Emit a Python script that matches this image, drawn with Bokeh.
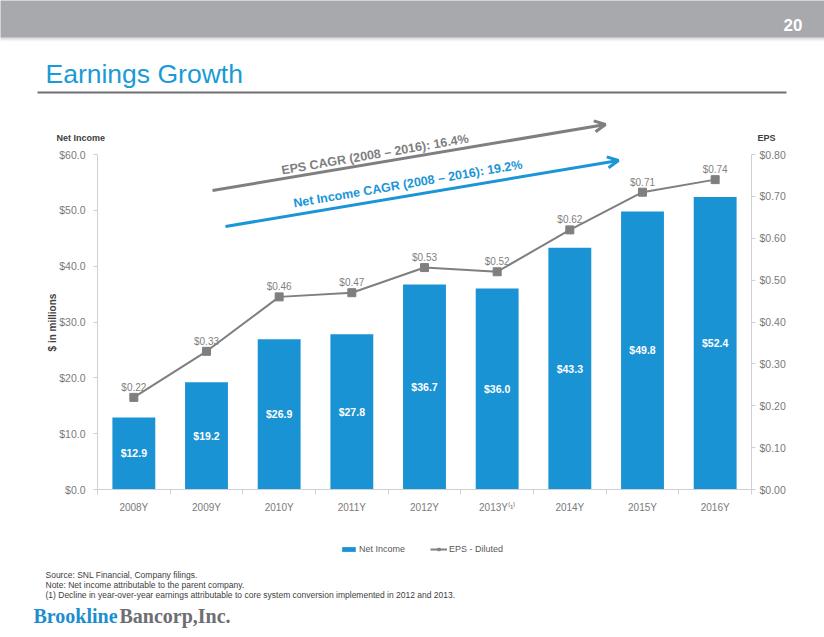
import math
from bokeh.plotting import figure
from bokeh.models import (Range1d, LinearAxis, FixedTicker, NumeralTickFormatter, Label,
                          Arrow, OpenHead, BoxAnnotation, Legend, LegendItem, ColumnDataSource)
from bokeh.core.properties import value
from bokeh.embed import file_html
from bokeh.resources import INLINE

# ---------------- data ----------------
categories = ["2008Y", "2009Y", "2010Y", "2011Y", "2012Y", "2013Y", "2014Y", "2015Y", "2016Y"]
tick_labels = ["2008Y", "2009Y", "2010Y", "2011Y", "2012Y", "2013Y\u207d\u00b9\u207e", "2014Y", "2015Y", "2016Y"]
net_income = [12.9, 19.2, 26.9, 27.8, 36.7, 36.0, 43.3, 49.8, 52.4]
eps_diluted = [0.22, 0.33, 0.46, 0.47, 0.53, 0.52, 0.62, 0.71, 0.74]
ni_ticks = [0, 10, 20, 30, 40, 50, 60]
eps_ticks = [0.0, 0.1, 0.2, 0.3, 0.4, 0.5, 0.6, 0.7, 0.8]
eps_cagr_text = "EPS CAGR (2008 \u2013 2016): 16.4%"
ni_cagr_text = "Net Income CAGR (2008 \u2013 2016): 19.2%"
footnotes = ["Source: SNL Financial, Company filings.",
             "Note: Net income attributable to the parent company.",
             "(1) Decline in year-over-year earnings attributable to core system conversion implemented in 2012 and 2013."]

FONT = "Liberation Sans"
BLUE = "#1A93D4"
GRAY = "#7F7F7F"
AXIS = "#D0D0D0"
TICKTXT = "#7A7A7A"

n = len(categories)
xs = [i + 0.5 for i in range(n)]

# ---------------- layout (pixels) ----------------
W, H = 824, 637
PL, PR, PT, PB = 97, 751, 154, 489          # chart area in page pixels
NI_MAX, EPS_MAX = 60.0, 0.8

def ext(lo_px, hi_px, v0, v1, full):
    # range so that page pixels lo_px..hi_px map to v0..v1 over a canvas of size `full`
    k = (v1 - v0) / (hi_px - lo_px)
    return v0 - lo_px * k, v1 + (full - hi_px) * k

xr = ext(PL, PR, 0, n, W)
yr_b, yr_t = ext(H - PB, H - PT, 0, NI_MAX, H)
er_b, er_t = ext(H - PB, H - PT, 0, EPS_MAX, H)

p = figure(width=W, height=H, x_range=Range1d(*xr), y_range=Range1d(yr_b, yr_t),
           output_backend="svg", toolbar_location=None, min_border=0,
           x_axis_location=None, y_axis_location=None,
           outline_line_color=None, background_fill_color="white", border_fill_color="white")
p.xgrid.visible = False
p.ygrid.visible = False
p.extra_y_ranges = {"eps": Range1d(er_b, er_t), "py": Range1d(H, 0)}
p.extra_x_ranges = {"px": Range1d(0, W)}

# ---- x axis ----
xa = LinearAxis(fixed_location=0, bounds=(0, n),
                ticker=FixedTicker(ticks=xs, minor_ticks=list(range(n + 1))))
xa.major_label_overrides = {x: lab for x, lab in zip(xs, tick_labels)}
xa.major_tick_line_color = None
xa.major_tick_out = 0
xa.major_tick_in = 0
xa.minor_tick_out = 5
xa.minor_tick_in = 0
xa.minor_tick_line_color = AXIS
xa.axis_line_color = AXIS
xa.major_label_standoff = 7
xa.major_label_text_font = FONT
xa.major_label_text_font_size = "10px"
xa.major_label_text_color = TICKTXT
p.add_layout(xa, "below")

# ---- left axis ----
ya = LinearAxis(fixed_location=0, bounds=(0, NI_MAX), ticker=FixedTicker(ticks=ni_ticks),
                formatter=NumeralTickFormatter(format="$0.0"))
ya.major_tick_out = 4
ya.major_tick_in = 0
ya.minor_tick_line_color = None
ya.major_tick_line_color = AXIS
ya.axis_line_color = AXIS
ya.major_label_standoff = 8
ya.major_label_text_font = FONT
ya.major_label_text_font_size = "10.5px"
ya.major_label_text_color = TICKTXT
p.add_layout(ya, "left")

# ---- right axis ----
ra = LinearAxis(y_range_name="eps", fixed_location=n, bounds=(0, EPS_MAX),
                ticker=FixedTicker(ticks=eps_ticks), formatter=NumeralTickFormatter(format="$0.00"))
ra.major_tick_out = 4
ra.major_tick_in = 0
ra.minor_tick_line_color = None
ra.major_tick_line_color = AXIS
ra.axis_line_color = AXIS
ra.major_label_standoff = 4
ra.major_label_text_font = FONT
ra.major_label_text_font_size = "10.5px"
ra.major_label_text_color = TICKTXT
p.add_layout(ra, "right")

# ---- bars ----
src = ColumnDataSource(dict(x=xs, ni=net_income, mid=[v / 2 for v in net_income],
                            ni_lab=["$%.1f" % v for v in net_income],
                            eps=eps_diluted, eps_lab=["$%.2f" % v for v in eps_diluted]))
bars = p.vbar(x="x", top="ni", bottom=0, width=0.59, source=src, fill_color=BLUE, line_color=None)
p.text(x="x", y="mid", text="ni_lab", source=src, text_align="center", text_baseline="middle",
       text_color="white", text_font=value(FONT), text_font_style="bold", text_font_size="10.5px")

# ---- EPS line ----
eline = p.line(x="x", y="eps", source=src, y_range_name="eps", line_color=GRAY, line_width=2)
emark = p.scatter(x="x", y="eps", source=src, y_range_name="eps", marker="square", size=8,
                  fill_color=GRAY, line_color=GRAY)
p.text(x="x", y="eps", text="eps_lab", source=src, y_range_name="eps", y_offset=-10,
       text_align="center", text_baseline="alphabetic", text_color=GRAY,
       text_font=value(FONT), text_font_size="10px")

# ---- legend ----
legend = Legend(items=[LegendItem(label="Net Income", renderers=[bars]),
                       LegendItem(label="EPS - Diluted", renderers=[eline, emark])],
                orientation="horizontal", location=(340, H - 554), spacing=25,
                padding=0, margin=0, glyph_width=17, glyph_height=6, label_height=6,
                label_standoff=2, label_text_font=FONT, label_text_font_size="9px",
                label_text_color="#595959", background_fill_alpha=0, border_line_color=None)
p.add_layout(legend, "center")

def lab(x, y, text, **kw):
    p.add_layout(Label(x=x, y=y, text=text, x_range_name="px", y_range_name="py",
                       text_font=kw.pop("font", FONT), **kw))

# ---- header ----
p.add_layout(BoxAnnotation(left=-20, right=W + 20, top=-20, bottom=37, x_range_name="px", y_range_name="py",
                           fill_color="#A7A9AC", fill_alpha=1, line_color=None, level="underlay"))
for k, a in enumerate([0.35, 0.22, 0.12, 0.06]):
    p.add_layout(BoxAnnotation(left=-20, right=W + 20, top=37 + k, bottom=38 + k, x_range_name="px",
                               y_range_name="py", fill_color="#808080", fill_alpha=a, line_color=None,
                               level="underlay"))
lab(802, 24, "20", text_align="right", text_baseline="middle", text_color="white",
    text_font_style="bold", text_font_size="17px")
lab(45, 73, "Earnings Growth", text_align="left", text_baseline="alphabetic", text_color="#1B9AD7",
    text_font_size="26.5px")
p.add_layout(BoxAnnotation(left=37, right=786, top=91, bottom=93, x_range_name="px", y_range_name="py",
                           fill_color="#6F6F6F", fill_alpha=1, line_color=None))

# ---- axis titles ----
lab(56, 137, "Net Income", text_align="left", text_baseline="middle", text_color="#404040",
    text_font_style="bold", text_font_size="9px")
lab(757, 137, "EPS", text_align="left", text_baseline="middle", text_color="#404040",
    text_font_style="bold", text_font_size="9px")
lab(52, 322, "$ in millions", text_align="center", text_baseline="middle", text_color="#404040",
    text_font_style="bold", text_font_size="10px", angle=math.pi / 2)

# ---- CAGR arrows ----
ang = math.radians(9.7)
p.add_layout(Arrow(x_start=212, y_start=190, x_end=605, y_end=124, x_range_name="px", y_range_name="py",
                   line_color=GRAY, line_width=3,
                   end=OpenHead(size=11, line_color=GRAY, line_width=3)))
p.add_layout(Arrow(x_start=225, y_start=226, x_end=618, y_end=160, x_range_name="px", y_range_name="py",
                   line_color="#1B95D8", line_width=3,
                   end=OpenHead(size=11, line_color="#1B95D8", line_width=3)))
lab(281, 170, eps_cagr_text, text_align="left", text_baseline="alphabetic", text_color=GRAY,
    text_font_style="bold", text_font_size="12.5px", angle=ang)
lab(293, 203, ni_cagr_text, text_align="left", text_baseline="alphabetic", text_color="#1B95D8",
    text_font_style="bold", text_font_size="12.5px", angle=ang)

# ---- footer ----
for i, t in enumerate(footnotes):
    lab(45, 574 + 10 * i, t, text_align="left", text_baseline="alphabetic", text_color="#404040",
        text_font_size="8.5px")
lab(33, 615, "Brookline", font="Liberation Serif", text_align="left", text_baseline="alphabetic",
    text_color="#1C8ED0", text_font_style="bold", text_font_size="20px")
lab(119, 615, "Bancorp,Inc.", font="Liberation Serif", text_align="left", text_baseline="alphabetic",
    text_color="#6D6E71", text_font_style="bold", text_font_size="20px")

open("out.html", "w").write(file_html(p, INLINE))
